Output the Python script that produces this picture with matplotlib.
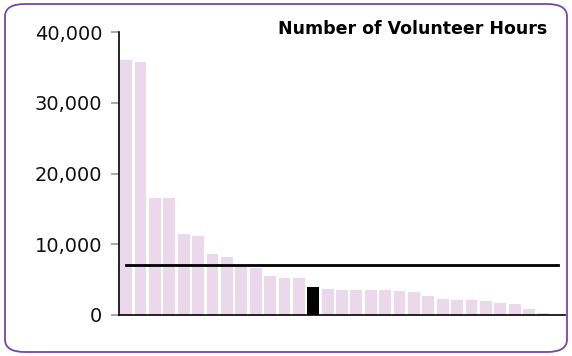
import matplotlib.pyplot as plt
import numpy as np
from matplotlib.patches import FancyBboxPatch
from matplotlib.ticker import FuncFormatter

# volunteer hours per organisation, sorted (highlighted one in black)
hours = [36000, 35700, 16500, 16500, 11500, 11200, 8600, 8200, 6900, 6600,
         5550, 5300, 5200, 4000, 3700, 3600, 3600, 3500, 3500, 3450,
         3200, 2700, 2250, 2150, 2150, 1950, 1700, 1600, 900, 250]
highlight = 13
average = 7000
yticks = [0, 10000, 20000, 30000, 40000]
title = 'Number of Volunteer Hours'

plt.rcParams['font.family'] = ['Verdana', 'DejaVu Sans']

fig = plt.figure(figsize=(5.72, 3.56), dpi=100)
ax = fig.add_axes([119 / 572, 1 - 315 / 356, 446 / 572, 283 / 356])

x = np.arange(len(hours))
colors = ['#EBD8EB'] * len(hours)
colors[highlight] = 'black'
ax.bar(x, hours, width=0.82, color=colors, zorder=1)

# average line
ax.plot([0, len(hours)], [average, average], color='black', lw=2.0, zorder=3)

ax.set_xlim(-0.5, len(hours) + 0.5)
ax.set_ylim(0, 40000)
ax.set_yticks(yticks)
ax.yaxis.set_major_formatter(FuncFormatter(lambda v, p: f'{int(v):,}'))
ax.set_xticks([])
ax.tick_params(axis='y', direction='out', length=6, width=1.2, color='#999999',
               labelsize=14, pad=6, labelcolor='#111111')
for s in ['top', 'right']:
    ax.spines[s].set_visible(False)
for s in ['left', 'bottom']:
    ax.spines[s].set_linewidth(1.2)
    ax.spines[s].set_color('black')

fig.text(547 / 572, 1 - 29 / 356, title, ha='right', va='center',
         fontsize=12.5, fontweight='bold')

# rounded frame around whole chart
frame = FancyBboxPatch((5 / 572, 4 / 356), 562 / 572, 348 / 356,
                       boxstyle='round,pad=0,rounding_size=0.035',
                       transform=fig.transFigure, fill=False,
                       edgecolor='#7A45A8', lw=1.3)
fig.patches.append(frame)

fig.savefig('out.png', dpi=100)
